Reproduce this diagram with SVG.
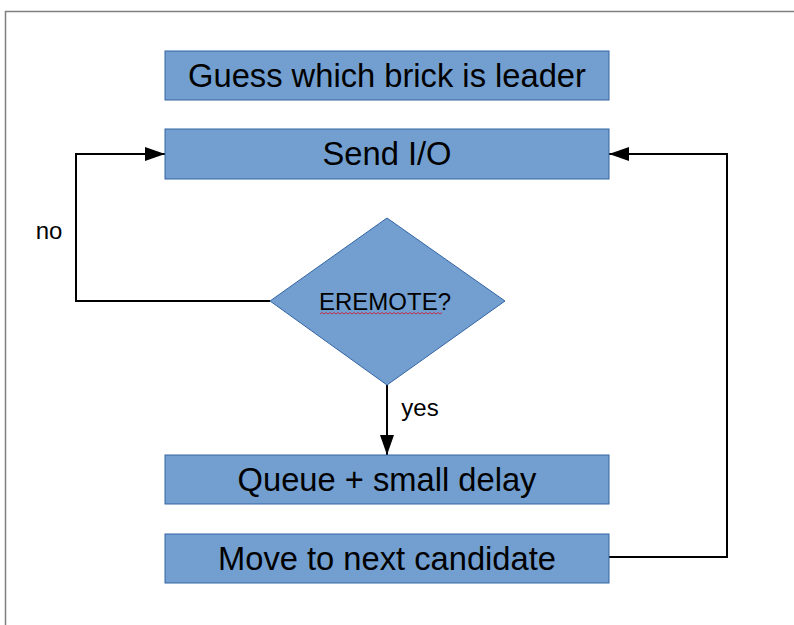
<svg xmlns="http://www.w3.org/2000/svg" width="794" height="625" viewBox="0 0 794 625">
  <defs>
    <marker id="arrow" viewBox="0 0 20 14" refX="20" refY="7" markerWidth="20" markerHeight="14" markerUnits="userSpaceOnUse" orient="auto">
      <path d="M0,0 L20,7 L0,14 Z" fill="#000"/>
    </marker>
    <style>
      .box { fill: #729fcf; stroke: #3465a4; stroke-width: 1; }
      .label { font-family: "Liberation Sans", Arial, sans-serif; fill: #000; text-anchor: middle; }
      .big { font-size: 32.7px; }
      .small { font-size: 24px; }
      .wire { fill: none; stroke: #000; stroke-width: 2; }
    </style>
  </defs>

  <rect width="794" height="625" fill="#fff"/>
  <!-- page frame -->
  <rect x="5.5" y="11.5" width="800" height="630" fill="none" stroke="#7f7f7f" stroke-width="1.5"/>

  <g id="connectors">
    <polyline class="wire" points="270,301 76,301 76,154 165,154" marker-end="url(#arrow)"/>
    <polyline class="wire" points="609,557 727,557 727,154 609,154" marker-end="url(#arrow)"/>
    <line class="wire" x1="387" y1="385" x2="387" y2="455" stroke-width="1.5" marker-end="url(#arrow)"/>
    <text class="label small" x="49" y="239">no</text>
    <text class="label small" x="420" y="416">yes</text>
  </g>

  <g id="guess">
    <rect class="box" x="165" y="51" width="444" height="49"/>
    <text class="label big" x="387" y="87">Guess which brick is leader</text>
  </g>

  <g id="send">
    <rect class="box" x="165" y="129" width="444" height="50"/>
    <text class="label big" x="387" y="165">Send I/O</text>
  </g>

  <g id="eremote">
    <polygon class="box" points="387,218 505,301 387,385 270,301"/>
    <text class="label small" x="385" y="310">EREMOTE?</text>
    <!-- spell-check squiggle under the word -->
    <path d="M320,314 l2,-1.5 l2,1.5 l2,-1.5 l2,1.5 l2,-1.5 l2,1.5 l2,-1.5 l2,1.5 l2,-1.5 l2,1.5 l2,-1.5 l2,1.5 l2,-1.5 l2,1.5 l2,-1.5 l2,1.5 l2,-1.5 l2,1.5 l2,-1.5 l2,1.5 l2,-1.5 l2,1.5 l2,-1.5 l2,1.5 l2,-1.5 l2,1.5 l2,-1.5 l2,1.5 l2,-1.5 l2,1.5 l2,-1.5 l2,1.5 l2,-1.5 l2,1.5 l2,-1.5 l2,1.5 l2,-1.5 l2,1.5 l2,-1.5 l2,1.5 l2,-1.5 l2,1.5 l2,-1.5 l2,1.5 l2,-1.5 l2,1.5 l2,-1.5 l2,1.5 l2,-1.5 l2,1.5 l2,-1.5 l2,1.5 l2,-1.5 l2,1.5 l2,-1.5 l2,1.5 l2,-1.5 l2,1.5 l2,-1.5 l2,1.5 l2,-1.5" fill="none" stroke="#c9213f" stroke-width="0.9"/>
  </g>

  <g id="queue">
    <rect class="box" x="165" y="455" width="444" height="49"/>
    <text class="label big" x="387" y="491">Queue + small delay</text>
  </g>

  <g id="next">
    <rect class="box" x="165" y="534" width="444" height="49"/>
    <text class="label big" x="387" y="570">Move to next candidate</text>
  </g>
</svg>
